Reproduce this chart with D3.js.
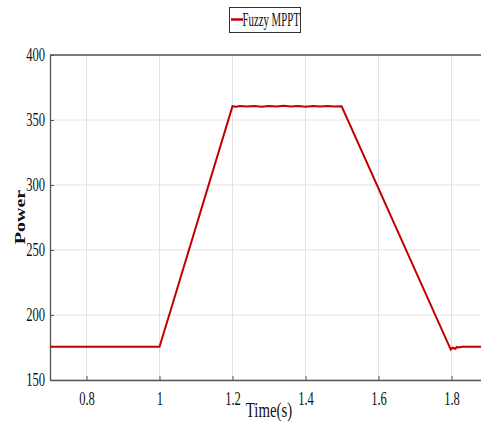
<!DOCTYPE html>
<html><head><meta charset="utf-8">
<script src="https://cdn.jsdelivr.net/npm/d3@7"></script>
<style>body{margin:0;background:#fff}svg{display:block}text{font-family:"Liberation Serif","Times New Roman",serif}</style>
</head><body><svg id="c" width="481" height="423"></svg>
<script>
const seriesName = "Fuzzy MPPT";
const time = [0.70,0.80,0.90,1.00,1.031,1.20,1.21,1.22,1.24,1.26,1.28,1.30,1.32,1.34,1.36,1.38,1.40,1.42,1.44,1.46,1.48,1.499,1.798,1.803,1.81,1.815,1.82,1.83,1.85,1.90];
const power = [175.5,175.5,175.5,175.5,204,360.6,360.2,360.8,360.3,360.7,360.2,360.8,360.4,360.9,360.3,360.7,360.2,360.8,360.3,360.7,360.4,360.5,173.4,174.8,174.0,175.4,175.0,175.5,175.5,175.5];
const xTicks = [0.8,1.0,1.2,1.4,1.6,1.8];
const yTicks = [150,200,250,300,350,400];
const xLabel = "Time(s)", yLabel = "Power";

const svg = d3.select("#c");
const m = {l:50, t:55, r:-7, b:43};
const W = 481 - m.l - m.r, H = 423 - m.t - m.b;
const x = d3.scaleLinear().domain([0.7,1.9]).range([m.l, m.l+W]);
const y = d3.scaleLinear().domain([150,400]).range([m.t+H, m.t]);
const SX = 0.7;

// grid
svg.append("g").selectAll("line").data(xTicks).join("line")
  .attr("x1",d=>x(d)).attr("x2",d=>x(d)).attr("y1",m.t).attr("y2",m.t+H)
  .attr("stroke","#e2e2e2").attr("stroke-width",1);
svg.append("g").selectAll("line").data(yTicks).join("line")
  .attr("y1",d=>y(d)).attr("y2",d=>y(d)).attr("x1",m.l).attr("x2",m.l+W)
  .attr("stroke","#e2e2e2").attr("stroke-width",1);

// axes
const xa = svg.append("g").attr("transform",`translate(0,${m.t+H})`)
  .call(d3.axisBottom(x).tickValues(xTicks).tickSizeInner(-4).tickSizeOuter(0).tickPadding(12).tickFormat(d=>d3.format("")(d)));
const ya = svg.append("g").attr("transform",`translate(${m.l},0)`)
  .call(d3.axisLeft(y).tickValues(yTicks).tickSizeInner(-4).tickSizeOuter(0).tickPadding(5));
[xa,ya].forEach(a=>{
  a.select(".domain").attr("stroke","#555").attr("stroke-width",1.3);
  a.selectAll(".tick line").attr("stroke","#555");
  a.selectAll(".tick text").attr("font-size",18).attr("fill","#111")
   .attr("font-family","'Liberation Serif',serif");
});
xa.selectAll(".tick text").attr("transform",`scale(${SX},1)`);
ya.selectAll(".tick text").attr("x",-5/SX).attr("transform",`scale(${SX},1)`);
svg.append("line").attr("x1",m.l).attr("x2",m.l+W).attr("y1",m.t).attr("y2",m.t).attr("stroke","#555").attr("stroke-width",1.3);

// line
svg.append("path").datum(time.map((t,i)=>[t,power[i]]))
  .attr("fill","none").attr("stroke","#c00000").attr("stroke-width",2)
  .attr("d", d3.line().x(d=>x(d[0])).y(d=>y(d[1])));

// labels
svg.append("text").attr("transform","translate(269,417) scale(0.74,1)").attr("text-anchor","middle")
  .attr("font-size",20).attr("fill","#111").text(xLabel);
svg.append("text").attr("transform",`translate(25,217) scale(${SX},1) rotate(-90)`).attr("text-anchor","middle")
  .attr("font-size",20).attr("font-weight","bold").attr("fill","#111").text(yLabel);

// legend
const lg = svg.append("g");
lg.append("rect").attr("x",229.5).attr("y",7.5).attr("width",71).attr("height",25)
  .attr("fill","#fff").attr("stroke","#333").attr("stroke-width",1);
lg.append("line").attr("x1",231).attr("x2",243).attr("y1",19.5).attr("y2",19.5)
  .attr("stroke","#c00000").attr("stroke-width",2.5);
lg.append("text").attr("transform","translate(242.5,26) scale(0.6,1)").attr("font-size",18).attr("fill","#111")
  .text(seriesName);
</script></body></html>
